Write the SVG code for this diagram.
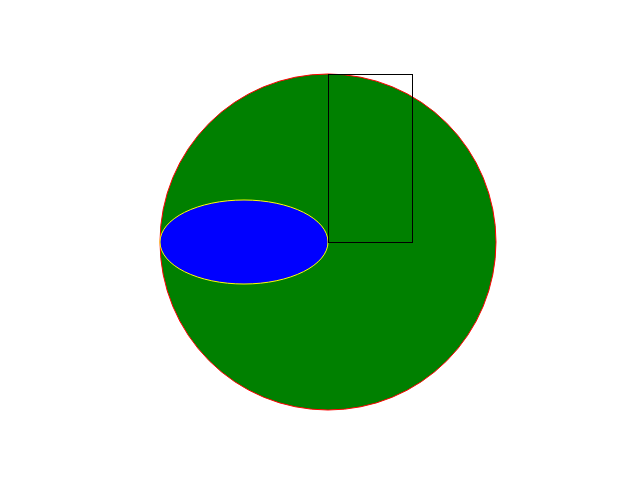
<svg xmlns="http://www.w3.org/2000/svg" width="640" height="480" viewBox="0 0 640 480">
<style>
.circ{fill:#008000;stroke:#ff0000;stroke-width:1}
.ell{fill:#0000ff;stroke:#ffff00;stroke-width:1}
.rect{fill:none;stroke:#000000;stroke-width:1}
</style>
<rect width="640" height="480" fill="#ffffff"/>
<g id="circle"><circle class="circ" cx="328" cy="242" r="168"/></g>
<g id="ellipse"><ellipse class="ell" cx="244" cy="242" rx="84" ry="42"/></g>
<g id="rectangle"><rect class="rect" x="328.5" y="74.5" width="84" height="168"/></g>
<g id="connectors"></g>
</svg>
